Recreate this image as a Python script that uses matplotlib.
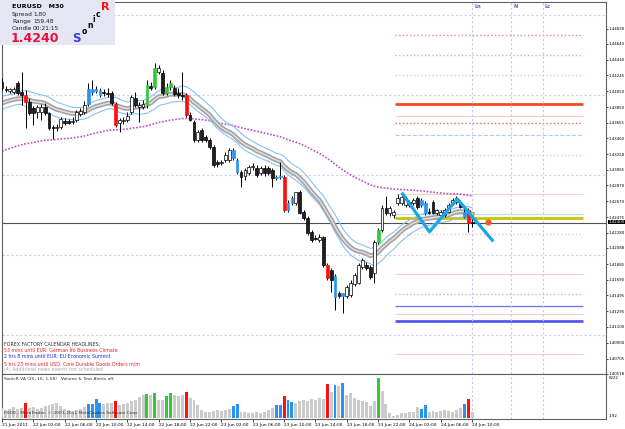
import numpy as np
import matplotlib
matplotlib.use("Agg")
import matplotlib.pyplot as plt
from matplotlib.patches import Rectangle

# %% Data (EURUSD M30, bar 0 = 21 Jun 22:00)
opens = [1.4416, 1.4408, 1.4405, 1.4404, 1.4415, 1.4404, 1.4400, 1.4391, 1.4384, 1.4379,
         1.4379, 1.4385, 1.4378, 1.4360, 1.4359, 1.4360, 1.4368, 1.4368, 1.4366, 1.4369,
         1.4376, 1.4379, 1.4389, 1.4404, 1.4408, 1.4406, 1.4404, 1.4402, 1.4402, 1.4389,
         1.4365, 1.4368, 1.4369, 1.4379, 1.4396, 1.4385, 1.4385, 1.4388, 1.4411, 1.4410,
         1.4429, 1.4428, 1.4402, 1.4410, 1.4409, 1.4402, 1.4400, 1.4400, 1.4375, 1.4366,
         1.4344, 1.4356, 1.4348, 1.4344, 1.4335, 1.4316, 1.4315, 1.4319, 1.4319, 1.4331,
         1.4319, 1.4304, 1.4299, 1.4303, 1.4310, 1.4309, 1.4303, 1.4309, 1.4309, 1.4306,
         1.4296, 1.4298, 1.4298, 1.4256, 1.4265, 1.4265, 1.4279, 1.4254, 1.4246, 1.4229,
         1.4221, 1.4219, 1.4222, 1.4188, 1.4181, 1.4174, 1.4153, 1.4149, 1.4149, 1.4150,
         1.4164, 1.4165, 1.4185, 1.4188, 1.4185, 1.4178, 1.4216, 1.4231, 1.4259, 1.4253,
         1.4250, 1.4265, 1.4265, 1.4263, 1.4266, 1.4265, 1.4271, 1.4263, 1.4265, 1.4254,
         1.4266, 1.4253, 1.4250, 1.4250, 1.4254, 1.4265, 1.4266, 1.4265, 1.4254, 1.4256,
         1.4241]
highs = [1.4421, 1.4411, 1.4409, 1.4410, 1.4418, 1.4429, 1.4406, 1.4396, 1.4386, 1.4387,
         1.4389, 1.4390, 1.4379, 1.4363, 1.4364, 1.4373, 1.4371, 1.4370, 1.4373, 1.4381,
         1.4384, 1.4393, 1.4415, 1.4419, 1.4411, 1.4409, 1.4408, 1.4409, 1.4405, 1.4391,
         1.4371, 1.4373, 1.4379, 1.4400, 1.4404, 1.4391, 1.4394, 1.4419, 1.4416, 1.4440,
         1.4438, 1.4431, 1.4415, 1.4419, 1.4413, 1.4409, 1.4429, 1.4402, 1.4379, 1.4369,
         1.4356, 1.4359, 1.4350, 1.4346, 1.4338, 1.4319, 1.4319, 1.4329, 1.4334, 1.4334,
         1.4321, 1.4306, 1.4309, 1.4313, 1.4315, 1.4313, 1.4311, 1.4313, 1.4311, 1.4309,
         1.4300, 1.4316, 1.4300, 1.4269, 1.4274, 1.4279, 1.4281, 1.4256, 1.4249, 1.4231,
         1.4225, 1.4226, 1.4224, 1.4190, 1.4184, 1.4176, 1.4155, 1.4153, 1.4162, 1.4169,
         1.4178, 1.4190, 1.4196, 1.4191, 1.4188, 1.4219, 1.4234, 1.4262, 1.4274, 1.4261,
         1.4256, 1.4276, 1.4279, 1.4274, 1.4269, 1.4271, 1.4274, 1.4271, 1.4268, 1.4259,
         1.4269, 1.4258, 1.4256, 1.4259, 1.4265, 1.4271, 1.4274, 1.4269, 1.4263, 1.4259,
         1.4246]
lows = [1.4406, 1.4404, 1.4402, 1.4401, 1.4400, 1.4388, 1.4359, 1.4375, 1.4363, 1.4371,
        1.4369, 1.4375, 1.4356, 1.4345, 1.4355, 1.4358, 1.4363, 1.4364, 1.4364, 1.4366,
        1.4374, 1.4376, 1.4386, 1.4400, 1.4402, 1.4398, 1.4399, 1.4398, 1.4388, 1.4360,
        1.4354, 1.4364, 1.4366, 1.4376, 1.4385, 1.4366, 1.4383, 1.4384, 1.4406, 1.4408,
        1.4426, 1.4400, 1.4400, 1.4406, 1.4399, 1.4396, 1.4394, 1.4373, 1.4368, 1.4341,
        1.4341, 1.4341, 1.4341, 1.4333, 1.4310, 1.4310, 1.4313, 1.4316, 1.4316, 1.4319,
        1.4301, 1.4285, 1.4294, 1.4300, 1.4306, 1.4298, 1.4300, 1.4299, 1.4300, 1.4285,
        1.4294, 1.4295, 1.4254, 1.4254, 1.4263, 1.4263, 1.4251, 1.4244, 1.4225, 1.4216,
        1.4219, 1.4216, 1.4185, 1.4169, 1.4154, 1.4131, 1.4146, 1.4128, 1.4146, 1.4148,
        1.4161, 1.4164, 1.4183, 1.4181, 1.4170, 1.4165, 1.4214, 1.4229, 1.4250, 1.4249,
        1.4246, 1.4263, 1.4263, 1.4260, 1.4260, 1.4263, 1.4258, 1.4260, 1.4250, 1.4251,
        1.4251, 1.4250, 1.4248, 1.4248, 1.4253, 1.4263, 1.4264, 1.4259, 1.4246, 1.4229,
        1.4235]
closes = [1.4409, 1.4406, 1.4408, 1.4408, 1.4402, 1.4400, 1.4391, 1.4378, 1.4378, 1.4385,
          1.4385, 1.4378, 1.4359, 1.4359, 1.4360, 1.4370, 1.4365, 1.4365, 1.4368, 1.4379,
          1.4380, 1.4388, 1.4408, 1.4408, 1.4405, 1.4400, 1.4402, 1.4401, 1.4390, 1.4363,
          1.4369, 1.4369, 1.4374, 1.4398, 1.4388, 1.4388, 1.4389, 1.4413, 1.4409, 1.4434,
          1.4434, 1.4402, 1.4410, 1.4415, 1.4401, 1.4400, 1.4399, 1.4375, 1.4369, 1.4344,
          1.4354, 1.4344, 1.4344, 1.4335, 1.4313, 1.4314, 1.4316, 1.4325, 1.4331, 1.4321,
          1.4304, 1.4298, 1.4306, 1.4310, 1.4311, 1.4300, 1.4309, 1.4303, 1.4303, 1.4296,
          1.4298, 1.4299, 1.4256, 1.4265, 1.4271, 1.4279, 1.4253, 1.4246, 1.4228, 1.4219,
          1.4220, 1.4222, 1.4188, 1.4171, 1.4169, 1.4148, 1.4149, 1.4153, 1.4160, 1.4165,
          1.4175, 1.4188, 1.4194, 1.4184, 1.4173, 1.4216, 1.4231, 1.4259, 1.4253, 1.4259,
          1.4254, 1.4271, 1.4273, 1.4271, 1.4263, 1.4269, 1.4260, 1.4269, 1.4253, 1.4253,
          1.4253, 1.4256, 1.4254, 1.4256, 1.4263, 1.4269, 1.4271, 1.4260, 1.4248, 1.4240,
          1.4240]
volumes = [1375, 1090, 1233, 1518, 1233, 1375, 2088, 1375, 1518, 1233,
           1375, 1660, 1803, 1945, 2088, 1660, 1233, 1090, 805, 1090,
           1233, 1518, 1945, 1945, 2658, 2088, 1945, 2088, 2088, 2373,
           1803, 1945, 2088, 2373, 2515, 2943, 3228, 3370, 3228, 3513,
           2515, 2515, 3085, 3513, 3228, 3085, 3228, 3655, 2800, 2515,
           1803, 1090, 805, 805, 948, 1090, 948, 1090, 1233, 1660,
           1945, 805, 805, 663, 663, 805, 663, 805, 1090, 1375,
           1803, 1803, 3085, 2515, 2230, 2088, 2373, 2515, 2373, 2658,
           2515, 2800, 2658, 4795, 3655, 4653, 4510, 4938, 3228, 3513,
           2800, 2515, 2373, 2230, 1660, 2373, 5650, 3798, 1945, 663,
           235, 378, 663, 663, 805, 805, 1518, 1233, 1803, 805,
           948, 805, 948, 1090, 948, 805, 1090, 1375, 1945, 2658,
           805]
red_bars = [6, 29, 47, 72, 83, 119]
green_bars = [37, 39, 42, 43, 96]
blue_bars = [22, 23, 24, 25, 59, 60, 70, 71, 73, 74, 85, 87, 107, 108, 118]

# moving average start values (history left of the window)
seed_high, seed_low, seed_close, seed_slow = 1.4396, 1.4379, 1.4388, 1.4328

time_ticks = [0] + list(range(8, 121, 8))
time_labels = ["21 Jun 2011", "22 Jun 02:00", "22 Jun 06:00", "22 Jun 10:00", "22 Jun 14:00",
               "22 Jun 18:00", "22 Jun 22:00", "23 Jun 02:00", "23 Jun 06:00", "23 Jun 10:00",
               "23 Jun 14:00", "23 Jun 18:00", "23 Jun 22:00", "24 Jun 02:00", "24 Jun 06:00",
               "24 Jun 10:00"]
price_ticks = [1.40518, 1.40705, 1.40900, 1.41100, 1.41295, 1.41495, 1.41690, 1.41885,
               1.42088, 1.42280, 1.42475, 1.42670, 1.42870, 1.43065, 1.43258, 1.43460,
               1.43655, 1.43850, 1.44050, 1.44245, 1.44440, 1.44640, 1.44830]

round_levels = [1.45, 1.44, 1.43, 1.42, 1.41]
level_prices = [1.4475, 1.4450, 1.4425, 1.4389, 1.4374, 1.4365, 1.4350, 1.4325, 1.4276,
                1.4251, 1.4246, 1.4226, 1.4176, 1.4151, 1.4136, 1.4126, 1.4117, 1.4076]
level_colors = ["#f08878", "#9ad89a", "#f2c4c4", "#f04a28", "#f4cccc", "#e86a5a", "#a8cdf0",
                "#f2c4c4", "#f6d4c8", "#bcdcf2", "#c8c400", "#f2c4c4", "#f4cccc", "#9ad89a",
                "#7878f0", "#f4cccc", "#5858f0", "#f4cccc"]
level_styles = [":", ":", ":", "-", "-", ":", "--", ":", "-", "-", "-", ":", "-", ":", "-",
                "-", "-", "-"]
level_widths = [1, 1, 1, 2, 0.8, 1, 0.8, 1, 0.8, 0.8, 2, 1, 0.8, 1, 1, 0.8, 2, 0.8]

zz_bars = [102.0, 109.1, 116.2, 125.4]
zz_prices = [1.4278, 1.4229, 1.4270, 1.4217]
dot_bar, dot_price = 124.1, 1.4241
bid = 1.4240
session_bars = [120, 130, 138]
session_names = ["Ln", "N", "Lc"]


def ema(values, period, seed):
    a = 2.0 / (period + 1)
    out, e = [], seed
    for v in values:
        e = e + a * (v - e)
        out.append(e)
    return np.array(out)


# %% Layout in pixels
W, H = 625, 429
fig = plt.figure(figsize=(W / 100, H / 100), dpi=100)


def rect(x0, y0, x1, y1):
    return [x0 / W, 1 - y1 / H, (x1 - x0) / W, (y1 - y0) / H]


def ftext(x, y, s, **kw):
    fig.text(x / W, 1 - y / H, s, va="center", **kw)


ax = fig.add_axes(rect(2, 2, 606, 374))
axv = fig.add_axes(rect(2, 374, 606, 419), sharex=ax)
n = len(closes)
x = np.arange(n)
ax.set_xlim(0.08, 154.16)
ax.set_ylim(1.405125, 1.451625)
axv.set_ylim(-192, 6222)

for a in (ax, axv):
    for s in a.spines.values():
        s.set_color("#606060")
        s.set_linewidth(0.8)

# %% Levels and session lines
for p in round_levels:
    ax.axhline(p, color="#cfcff0", lw=0.8, ls=(0, (2, 2)), zorder=1)
for p, c, ls, lw in zip(level_prices, level_colors, level_styles, level_widths):
    ax.hlines(p, 100.3, 148.3, colors=c, linestyles=ls, lw=lw, zorder=1)
for b, name in zip(session_bars, session_names):
    for a in (ax, axv):
        a.axvline(b, color="#c8c8ee", lw=0.8, ls=(0, (2, 2)), zorder=1)
    ax.text(b + 0.5, 1.4510, name, color="#9040d0", fontsize=3.5, fontweight="bold",
            va="center", ha="left")
ax.axhline(bid, color="#505050", lw=0.8, zorder=2)

# %% Moving averages
ema_hi = ema(highs, 20, seed_high)
ema_lo = ema(lows, 20, seed_low)
ema_cl = ema(closes, 20, seed_close)
ema_slow = ema(closes, 89, seed_slow)
ax.plot(x, ema_slow, color="#c04cc8", lw=1.2, ls=(0, (1, 1)), zorder=2)
ax.plot(x, ema_hi, color="#86c2f2", lw=0.8, zorder=2)
ax.plot(x, ema_lo, color="#86c2f2", lw=0.8, zorder=2)
ax.plot(x, ema_cl, color="#a4a4a4", lw=3.4, zorder=2)
ax.plot(x, ema_cl, color="#e2e2e2", lw=1.0, zorder=2)

# %% Candles
o, h, l, c = map(np.array, (opens, highs, lows, closes))
special = {}
for i in red_bars:
    special[i] = "#ff1010"
for i in green_bars:
    special[i] = "#34c834"
for i in blue_bars:
    special[i] = "#2894f0"
ax.vlines(x, l, h, color="black", lw=0.7, zorder=3)
for i in range(n):
    lo_b, hi_b = min(o[i], c[i]), max(o[i], c[i])
    height = max(hi_b - lo_b, 0.00004)
    if i in special:
        fc, ec = special[i], special[i]
    elif c[i] >= o[i]:
        fc, ec = "white", "black"
    else:
        fc, ec = "#202020", "black"
    ax.add_patch(Rectangle((i - 0.36, lo_b), 0.72, height, facecolor=fc, edgecolor=ec,
                           lw=0.5, zorder=4))

ax.plot(zz_bars, zz_prices, color="#1aa6e6", lw=2.3, zorder=5, solid_capstyle="butt")
ax.plot([dot_bar], [dot_price], "o", color="#ee5a22", ms=3.5, zorder=6)

# %% Volume panel
vcols = [special.get(i, "#cbcbcb") for i in range(n)]
axv.bar(x, volumes, width=0.75, color=vcols, zorder=3)

# %% Axes ticks
ax.yaxis.tick_right()
ax.set_yticks(price_ticks)
ax.set_yticklabels([f"{t:.5f}" for t in price_ticks])
ax.tick_params(axis="y", labelsize=2.8, length=1.5, pad=0.5, width=0.5)
ax.tick_params(axis="x", bottom=False, labelbottom=False)
axv.set_yticks([])
axv.set_xticks(time_ticks)
axv.set_xticklabels(time_labels, ha="left")
axv.tick_params(axis="x", labelsize=3.2, length=2, pad=1, width=0.5)

ftext(608.5, 222, "1.42400", fontsize=2.8, color="white",
      bbox=dict(boxstyle="square,pad=0.1", fc="black", ec="none"))
ftext(609, 378, "6222", fontsize=2.8)
ftext(609, 416, "-192", fontsize=2.8)

# %% Info box
fig.patches.append(Rectangle((0, 1 - 45 / H), 115 / W, 45 / H, transform=fig.transFigure,
                             facecolor="#e6e6f3", edgecolor="none", zorder=10))
ftext(12, 6.5, "EURUSD   M30", fontsize=4.6, fontweight="bold", zorder=11)
for yy, lab, val in [(14.5, "Spread", "1.80"), (21.5, "Range", "159.48"),
                     (28.5, "Candle", "00:21:15")]:
    ftext(12, yy, lab, fontsize=4.2, color="#202020", zorder=11)
    ftext(33, yy, val, fontsize=4.2, color="#202020", zorder=11)
ftext(11, 38.5, "1.4240", fontsize=9, fontweight="bold", color="#e8103a", zorder=11)
for (xx, yy), ch, col, fs in zip([(72, 38.5), (82, 31), (87, 25.5), (92, 20), (96, 14.5),
                                  (101, 7.5)],
                                 "SonicR", ["#3040e0", "k", "k", "k", "k", "#ff1010"],
                                 [8.5, 5.5, 5.5, 5.5, 5.5, 8]):
    ftext(xx, yy, ch, fontsize=fs, fontweight="bold", color=col, zorder=11)

# %% News and indicator texts
news = [("FOREX FACTORY CALENDAR HEADLINES:", "#303030"),
        ("53 mins until EUR: German Ifo Business Climate", "#e8202a"),
        ("2 hrs 8 mins until EUR: EU Economic Summit", "#2020e0"),
        ("5 hrs 23 mins until USD: Core Durable Goods Orders m/m", "#e8202a"),
        ("(4) Additional news events not scheduled", "#a8a8a8")]
for k, (s, col) in enumerate(news):
    ftext(4, 344 + 6.5 * k, s, fontsize=3.4, color=col)
ftext(4, 379, "SonicR VA (20, 16, 1.58)   Volume & Text Alerts off.", fontsize=3.2,
      color="#303030")
ftext(4, 413, "FXDD - MetaTrader, \u00a9 2001-2011 MetaQuotes Software Corp.", fontsize=3.2,
      color="#303030", zorder=5)

fig.savefig("out.png", dpi=100)
